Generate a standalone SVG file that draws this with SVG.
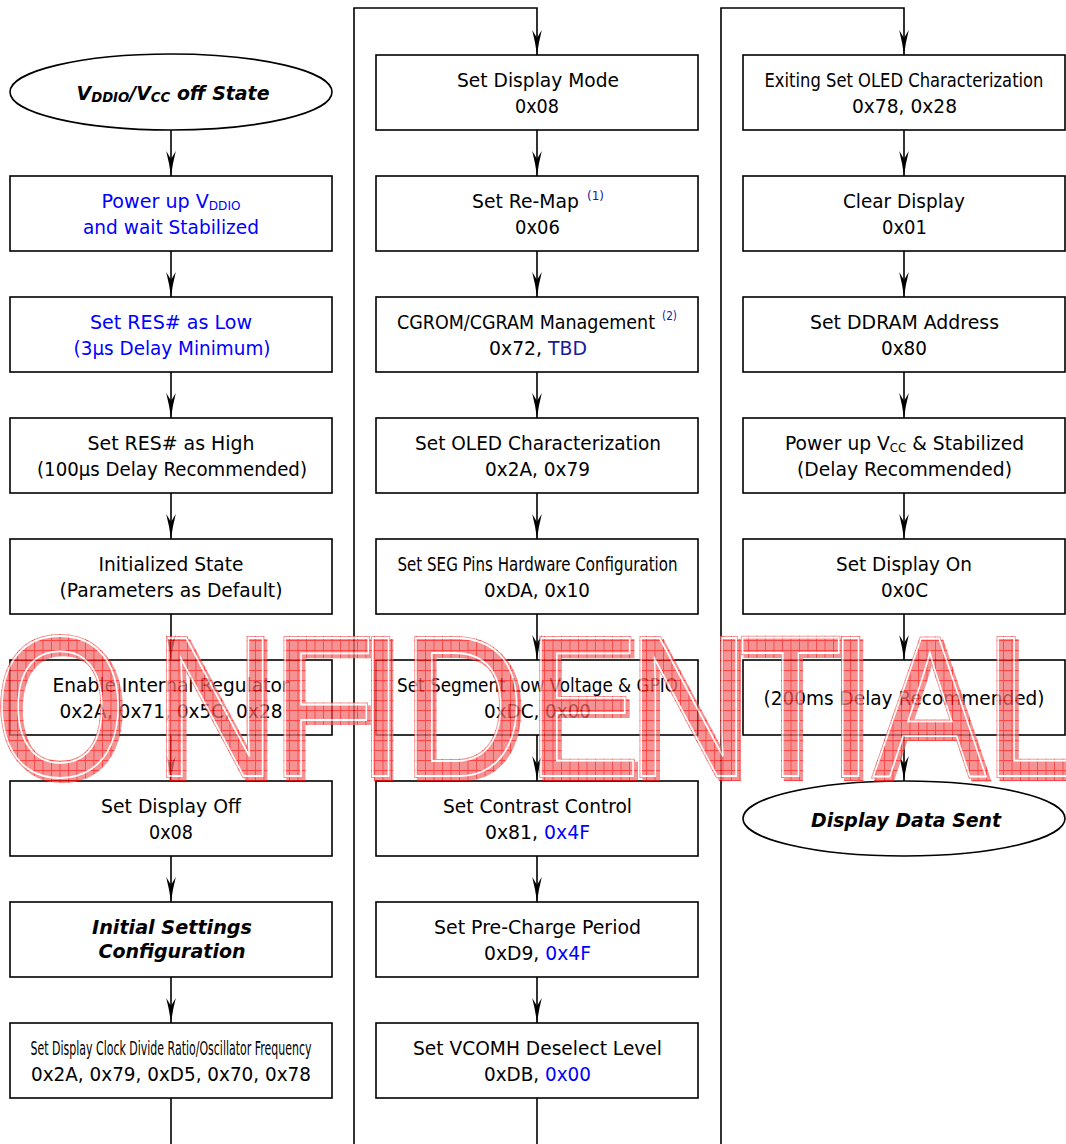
<svg xmlns="http://www.w3.org/2000/svg" width="1066" height="1144" viewBox="0 0 1066 1144">
<defs>
<style>
.box{fill:#fff;stroke:#000;stroke-width:1.6}
.t{font-family:"DejaVu Sans",Verdana,sans-serif;font-size:19px;text-anchor:middle;fill:#000}
.bi{font-weight:bold;font-style:italic;font-size:20px}
.blue{fill:#0000ff}
.navy{fill:#1a1a9c}
.sup{font-family:"DejaVu Sans",Verdana,sans-serif;font-size:12px;fill:#1a1a9c}
.conn{fill:none;stroke:#000;stroke-width:1.6}
.wm{font-family:"Liberation Sans",Arial,sans-serif;font-size:200px}
.wmf{fill:url(#hatch);stroke:url(#hatch);stroke-width:4}
</style>
<marker id="ah" viewBox="-27 -6 28 12" refX="0" refY="0" markerWidth="28" markerHeight="12" markerUnits="userSpaceOnUse" orient="auto">
<path d="M0,0 Q-12,-1.5 -25,-4.8 L-17,0 L-25,4.8 Q-12,1.5 0,0 Z" fill="#000"/>
</marker>
<pattern id="hatch" patternUnits="userSpaceOnUse" width="10" height="10">
<rect width="10" height="10" fill="#f07070"/>
<path d="M0,0.5 H10 M0.5,0 V10" stroke="#ff0000" stroke-width="1"/>
</pattern>
</defs>
<rect width="1066" height="1144" fill="#fff"/>

<g id="connectors">
<line class="conn" x1="171" y1="130" x2="171" y2="176" marker-end="url(#ah)"/>
<line class="conn" x1="171" y1="251" x2="171" y2="297" marker-end="url(#ah)"/>
<line class="conn" x1="171" y1="372" x2="171" y2="418" marker-end="url(#ah)"/>
<line class="conn" x1="171" y1="493" x2="171" y2="539" marker-end="url(#ah)"/>
<line class="conn" x1="171" y1="614" x2="171" y2="660" marker-end="url(#ah)"/>
<line class="conn" x1="171" y1="735" x2="171" y2="781" marker-end="url(#ah)"/>
<line class="conn" x1="171" y1="856" x2="171" y2="902" marker-end="url(#ah)"/>
<line class="conn" x1="171" y1="977" x2="171" y2="1023" marker-end="url(#ah)"/>
<line class="conn" x1="171" y1="1098" x2="171" y2="1144"/>
<path class="conn" d="M354,1144 V8 H537 V55" marker-end="url(#ah)"/>
<line class="conn" x1="537" y1="130" x2="537" y2="176" marker-end="url(#ah)"/>
<line class="conn" x1="537" y1="251" x2="537" y2="297" marker-end="url(#ah)"/>
<line class="conn" x1="537" y1="372" x2="537" y2="418" marker-end="url(#ah)"/>
<line class="conn" x1="537" y1="493" x2="537" y2="539" marker-end="url(#ah)"/>
<line class="conn" x1="537" y1="614" x2="537" y2="660" marker-end="url(#ah)"/>
<line class="conn" x1="537" y1="735" x2="537" y2="781" marker-end="url(#ah)"/>
<line class="conn" x1="537" y1="856" x2="537" y2="902" marker-end="url(#ah)"/>
<line class="conn" x1="537" y1="977" x2="537" y2="1023" marker-end="url(#ah)"/>
<line class="conn" x1="537" y1="1098" x2="537" y2="1144"/>
<path class="conn" d="M721,1144 V8 H904 V55" marker-end="url(#ah)"/>
<line class="conn" x1="904" y1="130" x2="904" y2="176" marker-end="url(#ah)"/>
<line class="conn" x1="904" y1="251" x2="904" y2="297" marker-end="url(#ah)"/>
<line class="conn" x1="904" y1="372" x2="904" y2="418" marker-end="url(#ah)"/>
<line class="conn" x1="904" y1="493" x2="904" y2="539" marker-end="url(#ah)"/>
<line class="conn" x1="904" y1="614" x2="904" y2="660" marker-end="url(#ah)"/>
<line class="conn" x1="904" y1="735" x2="904" y2="781" marker-end="url(#ah)"/>
</g>

<!-- Column 1 -->
<g id="n-off-state">
<ellipse class="box" cx="171" cy="92" rx="161" ry="38"/>
<text class="t bi" x="173" y="100" textLength="193" lengthAdjust="spacingAndGlyphs">V<tspan font-size="14" dy="2">DDIO</tspan><tspan dy="-2">/V</tspan><tspan font-size="14" dy="2">CC</tspan><tspan dy="-2"> off State</tspan></text>
</g>
<g id="n-power-vddio">
<rect class="box" x="10" y="176" width="322" height="75"/>
<text class="t blue" x="171" y="208" textLength="139" lengthAdjust="spacingAndGlyphs">Power up V<tspan font-size="12" dy="2">DDIO</tspan></text>
<text class="t blue" x="171" y="234" textLength="176" lengthAdjust="spacingAndGlyphs">and wait Stabilized</text>
</g>
<g id="n-res-low">
<rect class="box" x="10" y="297" width="322" height="75"/>
<text class="t blue" x="171" y="329" textLength="162" lengthAdjust="spacingAndGlyphs">Set RES# as Low</text>
<text class="t blue" x="172" y="355" textLength="197" lengthAdjust="spacingAndGlyphs">(3µs Delay Minimum)</text>
</g>
<g id="n-res-high">
<rect class="box" x="10" y="418" width="322" height="75"/>
<text class="t" x="171" y="450" textLength="167" lengthAdjust="spacingAndGlyphs">Set RES# as High</text>
<text class="t" x="172" y="476" textLength="270" lengthAdjust="spacingAndGlyphs">(100µs Delay Recommended)</text>
</g>
<g id="n-initialized">
<rect class="box" x="10" y="539" width="322" height="75"/>
<text class="t" x="171" y="571" textLength="145" lengthAdjust="spacingAndGlyphs">Initialized State</text>
<text class="t" x="171" y="597" textLength="223" lengthAdjust="spacingAndGlyphs">(Parameters as Default)</text>
</g>
<g id="n-regulator">
<rect class="box" x="10" y="660" width="322" height="75"/>
<text class="t" x="171" y="692" textLength="237" lengthAdjust="spacingAndGlyphs">Enable Internal Regulator</text>
<text class="t" x="171" y="718" textLength="223" lengthAdjust="spacingAndGlyphs">0x2A, 0x71, 0x5C, 0x28</text>
</g>
<g id="n-display-off">
<rect class="box" x="10" y="781" width="322" height="75"/>
<text class="t" x="171" y="813" textLength="140" lengthAdjust="spacingAndGlyphs">Set Display Off</text>
<text class="t" x="171" y="839" textLength="44" lengthAdjust="spacingAndGlyphs">0x08</text>
</g>
<g id="n-initial-settings">
<rect class="box" x="10" y="902" width="322" height="75"/>
<text class="t bi" x="172" y="934" textLength="160" lengthAdjust="spacingAndGlyphs">Initial Settings</text>
<text class="t bi" x="172" y="958" textLength="147" lengthAdjust="spacingAndGlyphs">Configuration</text>
</g>
<g id="n-clock">
<rect class="box" x="10" y="1023" width="322" height="75"/>
<text class="t" x="171" y="1055" textLength="281" lengthAdjust="spacingAndGlyphs">Set Display Clock Divide Ratio/Oscillator Frequency</text>
<text class="t" x="171" y="1081" textLength="280" lengthAdjust="spacingAndGlyphs">0x2A, 0x79, 0xD5, 0x70, 0x78</text>
</g>

<!-- Column 2 -->
<g id="n-display-mode">
<rect class="box" x="376" y="55" width="322" height="75"/>
<text class="t" x="538" y="87" textLength="162" lengthAdjust="spacingAndGlyphs">Set Display Mode</text>
<text class="t" x="537" y="113" textLength="44" lengthAdjust="spacingAndGlyphs">0x08</text>
</g>
<g id="n-remap">
<rect class="box" x="376" y="176" width="322" height="75"/>
<text class="t" x="525.5" y="208" textLength="107" lengthAdjust="spacingAndGlyphs">Set Re-Map</text>
<text class="sup" x="587" y="200" textLength="17" lengthAdjust="spacingAndGlyphs">(1)</text>
<text class="t" x="537.5" y="234" textLength="45" lengthAdjust="spacingAndGlyphs">0x06</text>
</g>
<g id="n-cgrom">
<rect class="box" x="376" y="297" width="322" height="75"/>
<text class="t" x="526" y="329" textLength="258" lengthAdjust="spacingAndGlyphs">CGROM/CGRAM Management</text>
<text class="sup" x="662" y="320" textLength="15" lengthAdjust="spacingAndGlyphs">(2)</text>
<text class="t" x="538" y="355" textLength="98" lengthAdjust="spacingAndGlyphs">0x72, <tspan class="navy">TBD</tspan></text>
</g>
<g id="n-oled-char">
<rect class="box" x="376" y="418" width="322" height="75"/>
<text class="t" x="538" y="450" textLength="246" lengthAdjust="spacingAndGlyphs">Set OLED Characterization</text>
<text class="t" x="537.5" y="476" textLength="105" lengthAdjust="spacingAndGlyphs">0x2A, 0x79</text>
</g>
<g id="n-seg-pins">
<rect class="box" x="376" y="539" width="322" height="75"/>
<text class="t" x="537.5" y="571" textLength="280" lengthAdjust="spacingAndGlyphs">Set SEG Pins Hardware Configuration</text>
<text class="t" x="537" y="597" textLength="106" lengthAdjust="spacingAndGlyphs">0xDA, 0x10</text>
</g>
<g id="n-seg-low">
<rect class="box" x="376" y="660" width="322" height="75"/>
<text class="t" x="537.5" y="692" textLength="281" lengthAdjust="spacingAndGlyphs">Set Segment Low Voltage &amp; GPIO</text>
<text class="t" x="537.5" y="718" textLength="107" lengthAdjust="spacingAndGlyphs">0xDC, 0x00</text>
</g>
<g id="n-contrast">
<rect class="box" x="376" y="781" width="322" height="75"/>
<text class="t" x="537.5" y="813" textLength="189" lengthAdjust="spacingAndGlyphs">Set Contrast Control</text>
<text class="t" x="537.5" y="839" textLength="105" lengthAdjust="spacingAndGlyphs">0x81, <tspan class="blue">0x4F</tspan></text>
</g>
<g id="n-precharge">
<rect class="box" x="376" y="902" width="322" height="75"/>
<text class="t" x="537.5" y="934" textLength="207" lengthAdjust="spacingAndGlyphs">Set Pre-Charge Period</text>
<text class="t" x="537.5" y="960" textLength="107" lengthAdjust="spacingAndGlyphs">0xD9, <tspan class="blue">0x4F</tspan></text>
</g>
<g id="n-vcomh">
<rect class="box" x="376" y="1023" width="322" height="75"/>
<text class="t" x="537.5" y="1055" textLength="249" lengthAdjust="spacingAndGlyphs">Set VCOMH Deselect Level</text>
<text class="t" x="537.5" y="1081" textLength="107" lengthAdjust="spacingAndGlyphs">0xDB, <tspan class="blue">0x00</tspan></text>
</g>

<!-- Column 3 -->
<g id="n-exit-oled">
<rect class="box" x="743" y="55" width="322" height="75"/>
<text class="t" x="904" y="87" textLength="279" lengthAdjust="spacingAndGlyphs">Exiting Set OLED Characterization</text>
<text class="t" x="904.5" y="113" textLength="105" lengthAdjust="spacingAndGlyphs">0x78, 0x28</text>
</g>
<g id="n-clear">
<rect class="box" x="743" y="176" width="322" height="75"/>
<text class="t" x="904" y="208" textLength="122" lengthAdjust="spacingAndGlyphs">Clear Display</text>
<text class="t" x="904.5" y="234" textLength="45" lengthAdjust="spacingAndGlyphs">0x01</text>
</g>
<g id="n-ddram">
<rect class="box" x="743" y="297" width="322" height="75"/>
<text class="t" x="904.5" y="329" textLength="189" lengthAdjust="spacingAndGlyphs">Set DDRAM Address</text>
<text class="t" x="904" y="355" textLength="46" lengthAdjust="spacingAndGlyphs">0x80</text>
</g>
<g id="n-power-vcc">
<rect class="box" x="743" y="418" width="322" height="75"/>
<text class="t" x="904.5" y="450" textLength="239" lengthAdjust="spacingAndGlyphs">Power up V<tspan font-size="12" dy="2">CC</tspan><tspan dy="-2"> &amp; Stabilized</tspan></text>
<text class="t" x="904.5" y="476" textLength="215" lengthAdjust="spacingAndGlyphs">(Delay Recommended)</text>
</g>
<g id="n-display-on">
<rect class="box" x="743" y="539" width="322" height="75"/>
<text class="t" x="904" y="571" textLength="136" lengthAdjust="spacingAndGlyphs">Set Display On</text>
<text class="t" x="904.5" y="597" textLength="47" lengthAdjust="spacingAndGlyphs">0x0C</text>
</g>
<g id="n-delay200">
<rect class="box" x="743" y="660" width="322" height="75"/>
<text class="t" x="904" y="705" textLength="281" lengthAdjust="spacingAndGlyphs">(200ms Delay Recommended)</text>
</g>
<g id="n-data-sent">
<ellipse class="box" cx="904" cy="818.5" rx="161" ry="37.5"/>
<text class="t bi" x="906" y="827" textLength="190" lengthAdjust="spacingAndGlyphs">Display Data Sent</text>
</g>

<!-- Watermark -->
<g id="watermark" opacity="0.75" transform="scale(0.85,1)">
<text class="wm wmf" x="-7 181 319 420 473 620 738 869 973 1027 1158" y="776">ONFIDENTIAL</text>
<text class="wm wmf" x="-3.5 184.5 322.5 423.5 476.5 623.5 741.5 872.5 976.5 1030.5 1161.5" y="779">ONFIDENTIAL</text>
<text class="wm" fill="none" stroke="#fff" stroke-width="1.8" x="-7 181 319 420 473 620 738 869 973 1027 1158" y="776">ONFIDENTIAL</text>
</g>
</svg>
